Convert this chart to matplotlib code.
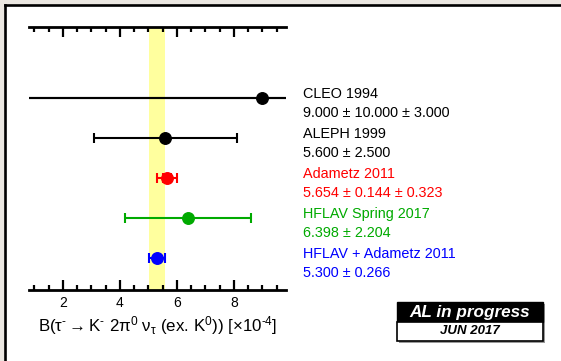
import matplotlib
matplotlib.use("Agg")
import matplotlib.pyplot as plt
import matplotlib.transforms as mtransforms
from matplotlib.patches import Rectangle
from matplotlib.lines import Line2D
import numpy as np

plt.rcParams['font.family'] = ['Liberation Sans', 'DejaVu Sans']
plt.rcParams['mathtext.fontset'] = 'custom'
plt.rcParams['mathtext.rm'] = 'Liberation Sans'
plt.rcParams['mathtext.it'] = 'Liberation Sans:italic'
plt.rcParams['mathtext.default'] = 'regular'

# Measurements of B(tau- -> K- 2pi0 nu, ex. K0) in units of 1e-4
names = ["CLEO 1994", "ALEPH 1999", "Adametz 2011", "HFLAV Spring 2017", "HFLAV + Adametz 2011"]
values = [9.000, 5.600, 5.654, 6.398, 5.300]
stat_err = [10.000, 2.500, 0.144, 2.204, 0.266]
syst_err = [3.000, None, 0.323, None, None]
value_labels = ["9.000 \u00b1 10.000 \u00b1 3.000", "5.600 \u00b1 2.500",
                "5.654 \u00b1 0.144 \u00b1 0.323", "6.398 \u00b1 2.204", "5.300 \u00b1 0.266"]
colors = ["black", "black", "#ff0000", "#00aa00", "#0000ff"]

# Reference band: the combined average
band_value = 5.300
band_err = 0.266

W, H = 561, 361
fig = plt.figure(figsize=(W / 100, H / 100), dpi=100)
fig.patch.set_facecolor("#ebe7e1")
fig.patch.set_edgecolor("none")
fig.patch.set_linewidth(0)

# White panel with dark top/left border
panel = Rectangle((5 / W, -0.05), 1.1, 1.05 - 5 / H, transform=fig.transFigure,
                  facecolor="white", edgecolor="none", lw=0, zorder=-5)
fig.patches.append(panel)
fig.lines.append(Line2D([5 / W, 5 / W], [0, 1 - 5 / H], transform=fig.transFigure,
                        color="black", lw=1.9, zorder=-4, solid_capstyle="projecting"))
fig.lines.append(Line2D([5 / W, 1], [1 - 5 / H, 1 - 5 / H], transform=fig.transFigure,
                        color="black", lw=1.9, zorder=-4, solid_capstyle="projecting"))

ax_l, ax_r, ax_t, ax_b = 29, 286, 27, 290
ax = fig.add_axes([ax_l / W, 1 - ax_b / H, (ax_r - ax_l) / W, (ax_b - ax_t) / H])
ax.set_facecolor("none")
ax.set_zorder(2)

n = len(names)
ypos = np.arange(n)
ax.set_xlim(0.81, 9.83)
ax.set_ylim(n - 0.2, -1.775)

ax.axvspan(band_value - band_err, band_value + band_err, color="#ffff9e", zorder=1, lw=0)

tr = mtransforms.blended_transform_factory(fig.transFigure, ax.transData)
tr2 = mtransforms.offset_copy(tr, fig=fig, y=-13.7, units='points')

for i in range(n):
    v = values[i]
    s = stat_err[i]
    sy = syst_err[i]
    tot = np.hypot(s, sy) if sy is not None else s
    ax.errorbar(v, ypos[i], xerr=tot, fmt='none', ecolor=colors[i], elinewidth=1.5,
                capsize=3.8, capthick=1.5, zorder=3)
    if sy is not None:
        ax.errorbar(v, ypos[i], xerr=s, fmt='none', ecolor=colors[i], elinewidth=1.5,
                    capsize=3.8, capthick=1.5, zorder=3)
    ax.plot(v, ypos[i], 'o', color=colors[i], markersize=8.3, zorder=4)

    # labels to the right of the axes
    ax.text(303 / W, ypos[i], names[i], transform=tr, color=colors[i], fontsize=10.4,
            va='baseline', ha='left', clip_on=False)
    ax.text(303 / W, ypos[i], value_labels[i], transform=tr2, color=colors[i], fontsize=10.4,
            va='baseline', ha='left', clip_on=False)

for side in ("left", "right"):
    ax.spines[side].set_visible(False)
for side in ("top", "bottom"):
    ax.spines[side].set_linewidth(2.0)
ax.set_yticks([])
ax.set_xticks([2, 4, 6, 8])
ax.set_xticks(np.arange(1.0, 9.6, 0.5), minor=True)
ax.tick_params(axis='x', which='both', direction='in', top=True, bottom=True,
               labeltop=False, labelbottom=True, width=1.6)
ax.tick_params(axis='x', which='major', length=7.5, pad=4, labelsize=10)
ax.tick_params(axis='x', which='minor', length=3.8)

ax.set_xlabel(r"B($\tau^{\text{-}}\rightarrow$K$^{\text{-}}$ 2$\pi^{0}$ $\nu_{\tau}$ (ex. K$^{0}$)) [$\times$10$^{\text{-}4}$]",
              fontsize=12.2, labelpad=3.5)

# Status box
def fig_rect(x0, y0, x1, y1, **kw):
    r = Rectangle((x0 / W, 1 - y1 / H), (x1 - x0) / W, (y1 - y0) / H,
                  transform=fig.transFigure, **kw)
    fig.patches.append(r)

fig_rect(399, 304, 545, 343, facecolor="#9a9a9a", edgecolor="none", zorder=5)
fig_rect(397, 302, 543, 322, facecolor="black", edgecolor="black", linewidth=1, zorder=6)
fig_rect(397, 322, 543, 341, facecolor="white", edgecolor="black", linewidth=1.2, zorder=6)
fig.text(470 / W, 1 - 312 / H, "AL in progress", color="white", fontsize=12.3,
         fontweight="bold", fontstyle="italic", ha="center", va="center", zorder=7)
fig.text(470 / W, 1 - 331.5 / H, "JUN 2017", color="black", fontsize=9.5,
         fontweight="bold", fontstyle="italic", ha="center", va="center", zorder=7)

fig.savefig("out.png", dpi=100, facecolor=fig.get_facecolor(), edgecolor="none")
